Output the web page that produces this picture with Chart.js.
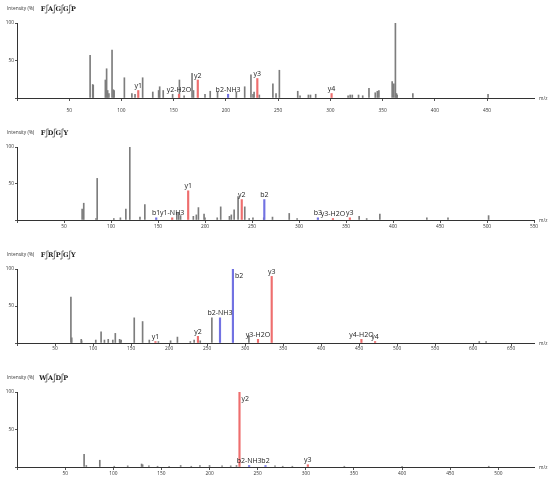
<!DOCTYPE html>
<html>
<head>
<meta charset="utf-8">
<script src="https://cdn.jsdelivr.net/npm/chart.js@4.4.0/dist/chart.umd.min.js"></script>
<style>
  body { margin: 0; background: #fff; }
  #wrap { position: relative; width: 550px; height: 480px; overflow: hidden; }
  #wrap canvas { position: absolute; left: 0; }
</style>
</head>
<body>
<div id="wrap">
  <canvas id="c1" width="550" height="122" style="top:0px"></canvas>
  <canvas id="c2" width="550" height="120" style="top:124px"></canvas>
  <canvas id="c3" width="550" height="121" style="top:246px"></canvas>
  <canvas id="c4" width="550" height="122" style="top:369px"></canvas>
</div>
<script>
// ---- panel 1 : FAGGP ----
var p1Seq = ['F', 'A', 'G', 'G', 'P'];
var p1Max = 495;
var p1Mz  = [70, 72.5, 73, 84.6, 85.8, 86.8, 88, 91, 92.2, 93, 102.8, 110, 113, 120.3, 130, 135.6, 136.6, 140, 149, 155.5, 160, 167.6, 169, 180, 185, 192, 210, 218, 224, 226, 227, 232, 245, 248, 251.2, 268.8, 271, 279, 281, 286, 317, 319, 321, 327, 331, 337, 343, 345, 346.5, 359.2, 360.8, 362.3, 363.3, 364, 379, 451];
var p1Int = [57, 18, 17, 24, 39, 10, 6, 64, 11, 10, 27, 6, 5, 27, 8, 10, 15, 10, 5, 24, 3, 33, 10, 5, 9, 8, 8, 15, 31, 5, 8, 4, 19, 6, 37, 9, 3, 4, 4, 5, 3, 4, 4, 4, 3, 13, 7, 9, 10, 22, 19, 100, 6, 4, 6, 5];
var p1IonNames = ['y1', 'y2-H2O', 'y2', 'b2-NH3', 'y3', 'y4'];
var p1IonMz    = [116.1, 155.1, 173.1, 202.1, 230.1, 301.2];
var p1IonInt   = [10, 5, 24, 5, 26, 6];

// ---- panel 2 : FDGY ----
var p2Seq = ['F', 'D', 'G', 'Y'];
var p2Max = 550;
var p2Mz  = [69.3, 71, 84, 85.3, 103, 110, 115.8, 120, 130.8, 136, 170, 172, 174, 187.6, 190.8, 193, 199, 200, 213, 216.7, 226, 228, 231, 235.2, 242.3, 247, 251, 262.5, 271.8, 289.6, 298, 364, 372, 386, 436, 458.5, 501.7];
var p2Int = [15, 23, 2, 57, 2, 3, 15, 100, 4, 21, 10, 10, 6, 5, 7, 17, 8, 3, 3, 18, 5, 7, 14, 32, 18, 2, 3, 3, 4, 9, 2, 5, 2, 8, 3, 3, 6];
var p2IonNames = ['b1', 'y1-NH3', 'y1', 'y2', 'b2', 'b3', 'y3-H2O', 'y3'];
var p2IonMz    = [148.1, 165.1, 182.1, 239.1, 263.1, 320.1, 336.1, 354.1];
var p2IonInt   = [3, 3, 40, 28, 28, 3, 2, 3];

// ---- panel 3 : FRPGY ----
var p3Seq = ['F', 'R', 'P', 'G', 'Y'];
var p3Max = 680;
var p3Mz  = [70.9, 72, 84.5, 85, 103.6, 110.6, 115, 120, 126, 129.3, 135, 136, 137, 154.2, 165.2, 174, 186, 202, 211, 228, 233, 241, 256.3, 305, 608, 617];
var p3Int = [62, 7, 5, 3, 4, 15, 4, 5, 4, 13, 5, 3, 4, 34, 29, 4, 2, 3, 8, 2, 4, 3, 34, 10, 2, 2];
var p3IonNames = ['y1', 'y2', 'b2-NH3', 'b2', 'y3-H2O', 'y3', 'y4-H2O', 'y4'];
var p3IonMz    = [182.1, 238, 267, 284, 317, 335, 453, 471];
var p3IonInt   = [2, 9, 34, 100, 5, 90, 5, 2];

// ---- panel 4 : WADP ----
var p4Seq = ['W', 'A', 'D', 'P'];
var p4Max = 537;
var p4Mz  = [69.7, 72, 86, 101, 115, 129.4, 130.5, 137, 146, 158, 170, 181, 190, 200, 213, 222, 228, 268, 276, 286, 340, 400, 490];
var p4Int = [17, 2, 9, 1, 1.5, 4, 3, 1.5, 1, 1, 2, 1, 2, 2, 1.5, 1.5, 2, 1.5, 1, 1, 1, 1, 1];
var p4IonNames = ['y2', 'b2-NH3', 'b2', 'y3'];
var p4IonMz    = [231.1, 241.1, 258.1, 302.1];
var p4IonInt   = [100, 2, 2, 3];

var GREY = '#7d7d7d', RED = '#ee6e6e', BLUE = '#7272e2';
var FONT = '"Open Sans", "DejaVu Sans", sans-serif';

function pairs(xs, ys) {
  return xs.map(function(x, i) { return {x: x, y: ys[i]}; });
}

function makePanel(id, seq, maxMz, mz, inten, ionNames, ionMz, ionInt, tickPad) {
  var ionColors = ionNames.map(function(n) { return n.charAt(0) === 'b' ? BLUE : RED; });

  var annot = {
    id: 'annot',
    afterDatasetsDraw: function(chart) {
      var ctx = chart.ctx, xs = chart.scales.x, ys = chart.scales.y, a = chart.chartArea;
      ctx.save();
      // ion labels
      ctx.fillStyle = '#222';
      ctx.font = '7px ' + FONT;
      ionNames.forEach(function(n, i) {
        var px = xs.getPixelForValue(ionMz[i]);
        var py = ys.getPixelForValue(ionInt[i]);
        if (ionInt[i] >= 95) {
          ctx.textAlign = 'left'; ctx.textBaseline = 'top';
          ctx.fillText(n, px + 2, py + 3);
        } else {
          ctx.textAlign = 'center'; ctx.textBaseline = 'bottom';
          ctx.fillText(n, px, py - 1);
        }
      });
      // axis captions
      ctx.fillStyle = '#333';
      ctx.font = '4.8px ' + FONT;
      ctx.textAlign = 'left'; ctx.textBaseline = 'middle';
      ctx.fillText('Intensity (%)', 7, a.top - 14);
      ctx.fillText('m/z', a.right + 5, a.bottom + 1);
      // peptide sequence with fragment marks
      var x0 = 43, step = 7.6, yc = a.top - 14;
      ctx.font = 'bold 6.5px "DejaVu Serif", serif';
      ctx.textAlign = 'center';
      ctx.fillStyle = '#222';
      seq.forEach(function(s, i) { ctx.fillText(s, x0 + i * step, yc + 0.5); });
      ctx.strokeStyle = '#444';
      ctx.lineWidth = 0.7;
      for (var i = 0; i < seq.length - 1; i++) {
        var sx = x0 + i * step + step / 2;
        ctx.beginPath();
        ctx.moveTo(sx + 2, yc - 4);
        ctx.lineTo(sx, yc - 4);
        ctx.lineTo(sx, yc + 4);
        ctx.lineTo(sx - 2, yc + 4);
        ctx.stroke();
      }
      ctx.restore();
    }
  };

  return new Chart(document.getElementById(id), {
    type: 'bar',
    data: {
      datasets: [{
        data: pairs(mz, inten),
        backgroundColor: GREY,
        barThickness: 1,
        grouped: false,
        order: 2
      }, {
        data: pairs(ionMz, ionInt),
        backgroundColor: ionColors,
        barThickness: 1.5,
        grouped: false,
        order: 1
      }]
    },
    options: {
      responsive: false,
      animation: false,
      layout: { padding: { top: 23, right: 16, left: 0, bottom: 0 } },
      plugins: { legend: { display: false }, tooltip: { enabled: false } },
      scales: {
        x: {
          type: 'linear',
          min: 0,
          max: maxMz,
          offset: false,
          grid: { offset: false, drawOnChartArea: false, drawTicks: true, tickLength: 3, color: '#555' },
          border: { color: '#333', width: 1 },
          ticks: {
            stepSize: 50,
            includeBounds: false,
            maxRotation: 0,
            autoSkip: false,
            padding: tickPad,
            color: '#333',
            font: { size: 4.8, family: FONT },
            callback: function(v) { return v === 0 ? '' : v; }
          },
          afterFit: function(s) { s.height = 24; }
        },
        y: {
          min: 0,
          max: 100,
          grid: { drawOnChartArea: false, drawTicks: true, tickLength: 2, color: '#555' },
          border: { color: '#333', width: 1 },
          ticks: {
            stepSize: 50,
            padding: 1,
            color: '#333',
            font: { size: 4.8, family: FONT },
            callback: function(v) { return v === 0 ? '' : v; }
          },
          afterFit: function(s) { s.width = 17; }
        }
      }
    },
    plugins: [annot]
  });
}

makePanel('c1', p1Seq, p1Max, p1Mz, p1Int, p1IonNames, p1IonMz, p1IonInt, 7);
makePanel('c2', p2Seq, p2Max, p2Mz, p2Int, p2IonNames, p2IonMz, p2IonInt, 1);
makePanel('c3', p3Seq, p3Max, p3Mz, p3Int, p3IonNames, p3IonMz, p3IonInt, 0);
makePanel('c4', p4Seq, p4Max, p4Mz, p4Int, p4IonNames, p4IonMz, p4IonInt, 1);
</script>
</body>
</html>
